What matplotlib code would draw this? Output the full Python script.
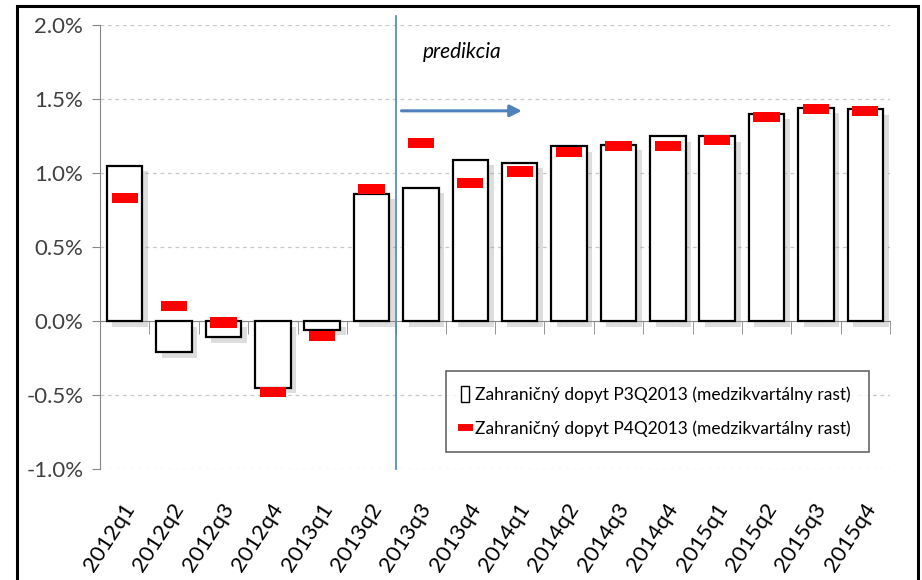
import matplotlib
matplotlib.use("Agg")
import matplotlib.pyplot as plt
import matplotlib.patheffects as pe
from matplotlib.patches import Patch, Rectangle
from matplotlib.lines import Line2D
import numpy as np

categories = ["2012q1", "2012q2", "2012q3", "2012q4", "2013q1", "2013q2", "2013q3", "2013q4",
              "2014q1", "2014q2", "2014q3", "2014q4", "2015q1", "2015q2", "2015q3", "2015q4"]
p3q2013 = [1.05, -0.21, -0.11, -0.45, -0.06, 0.86, 0.90, 1.09,
           1.07, 1.18, 1.19, 1.25, 1.25, 1.40, 1.44, 1.43]
p4q2013 = [0.83, 0.10, -0.01, -0.48, -0.10, 0.89, 1.20, 0.93,
           1.01, 1.14, 1.18, 1.18, 1.22, 1.38, 1.43, 1.42]
yticks = [-1.0, -0.5, 0.0, 0.5, 1.0, 1.5, 2.0]
label_p3 = "Zahraničný dopyt P3Q2013 (medzikvartálny rast)"
label_p4 = "Zahraničný dopyt P4Q2013 (medzikvartálny rast)"
forecast_start = 6  # index of 2013q3

FONT = ["Lato", "DejaVu Sans"]
plt.rcParams["font.family"] = FONT

fig = plt.figure(figsize=(9.22, 5.8), dpi=100)
ax = fig.add_axes([100/922, 1-469/580, 790/922, 444/580])

x = np.arange(len(categories))
bars = ax.bar(x, p3q2013, width=0.72, color="white", edgecolor="black", linewidth=1.6, zorder=3)
for b in bars:
    b.set_path_effects([pe.SimplePatchShadow(offset=(4, -4), shadow_rgbFace="#909090", alpha=0.3),
                        pe.Normal()])

thick = 0.068
ax.bar(x, [thick]*len(x), bottom=np.array(p4q2013) - thick/2, width=0.53, color="#ff0000",
       linewidth=0, zorder=4)

ax.set_xlim(-0.5, len(categories) - 0.5)
ax.set_ylim(-1.0, 2.0)
ax.set_yticks(yticks)
ax.set_yticklabels([f"{v:.1f}%" for v in yticks])
ax.yaxis.grid(True, linestyle=(0, (3, 3)), color="#c8c8c8", linewidth=0.9)
ax.set_axisbelow(True)

for s in ["top", "right"]:
    ax.spines[s].set_visible(False)
ax.spines["left"].set_color("#868686")
ax.spines["bottom"].set_position(("data", 0))
ax.spines["bottom"].set_color("#868686")
ax.spines["bottom"].set_zorder(2)
ax.tick_params(axis="y", colors="#868686", length=6, labelcolor="#404040", labelsize=16, pad=6)
ax.set_xticks(x)
ax.set_xticklabels([])
ax.tick_params(axis="x", which="major", length=0)
ax.set_xticks(np.arange(len(categories) + 1) - 0.5, minor=True)
ax.tick_params(axis="x", which="minor", length=9, color="#868686", direction="out")

trans = matplotlib.transforms.blended_transform_factory(ax.transData, ax.transAxes)
for xi, lab in zip(x, categories):
    ax.text(xi + 0.12, -0.08, lab, transform=trans, rotation=57, rotation_mode="anchor",
            ha="right", va="center", fontsize=16, color="black")

# forecast divider
ax.plot([forecast_start - 0.5]*2, [-1.0, 2.06], color="#4f81bd", linewidth=1.2, clip_on=False, zorder=2)
ax.text(forecast_start - 0.5 + 0.53, 1.82, "predikcia", style="italic", fontsize=15, color="black",
        ha="left", va="center")
ax.annotate("", xy=(forecast_start + 2.1, 1.42), xytext=(forecast_start - 0.45, 1.42),
            arrowprops=dict(arrowstyle="-|>,head_length=0.7,head_width=0.35", color="#4f81bd", lw=2.2))

handles = [Patch(facecolor="white", edgecolor="black", linewidth=1.0),
           Line2D([0], [0], color="#ff0000", linewidth=5)]
leg = ax.legend(handles, [label_p3, label_p4], loc="lower left",
                bbox_to_anchor=(0.438, 0.038, 0.535, 0.192), mode="expand", borderaxespad=0,
                fontsize=12.5, frameon=True, fancybox=False, edgecolor="#404040",
                handlelength=0.5, handleheight=1.1, handletextpad=0.3, borderpad=0.85, labelspacing=1.0)
leg.get_frame().set_linewidth(1.2)
leg.set_zorder(5)

fig.patches.append(Rectangle((17/922, -0.05), (918-17)/922, 1.05 - 6/580, transform=fig.transFigure,
                             fill=False, edgecolor="black", linewidth=2.2))

fig.savefig("out.png", dpi=100)
